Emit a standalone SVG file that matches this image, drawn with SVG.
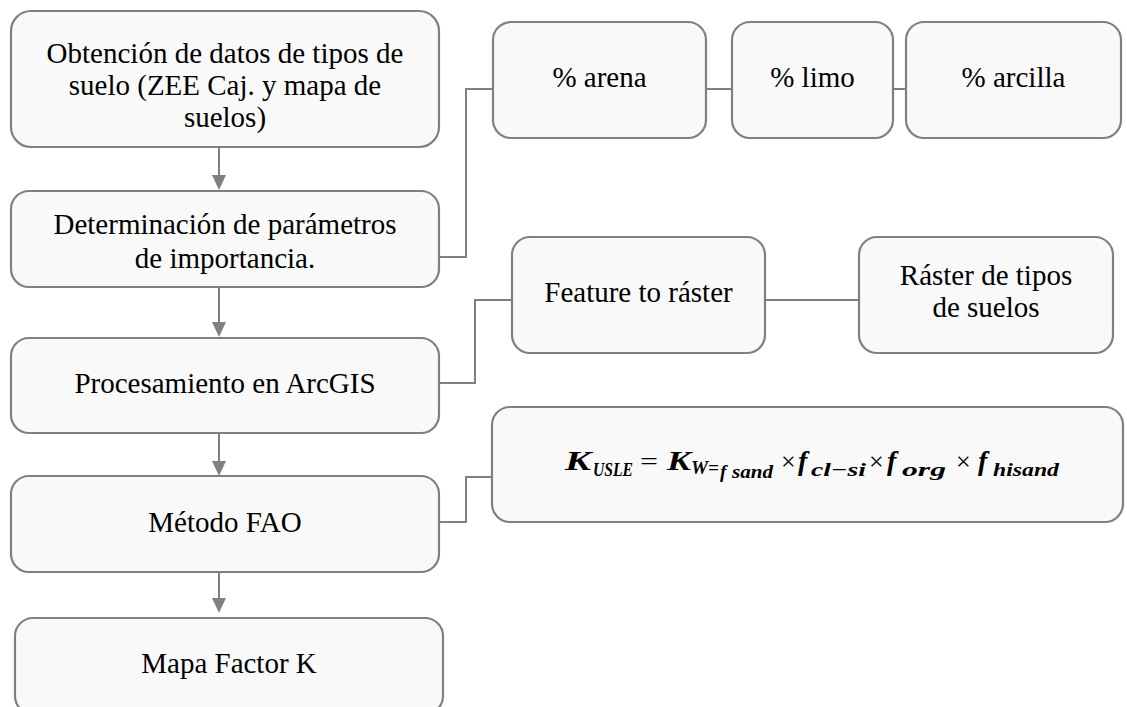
<svg xmlns="http://www.w3.org/2000/svg" width="1127" height="707" viewBox="0 0 1127 707">
<defs>
<style>
.box{fill:#f9f9f9;stroke:#808080;stroke-width:2.2}
.t{font-size:29px;fill:#000;text-anchor:middle}
.c{fill:none;stroke:#808080;stroke-width:2}
.fm{font-size:28px;font-weight:bold;font-style:italic;fill:#000}
.fs{font-size:19px;font-weight:bold;font-style:italic;fill:#000}
.fx{font-size:26px;fill:#000}
</style>
</defs>
<rect width="1127" height="707" fill="#ffffff"/>
<g id="connectors">
<line class="c" x1="219" y1="147" x2="219" y2="177"/>
<path d="M212,175 L226,175 L219,190 Z" fill="#808080"/>
<line class="c" x1="219" y1="287" x2="219" y2="324"/>
<path d="M212,322 L226,322 L219,337 Z" fill="#808080"/>
<line class="c" x1="219" y1="433" x2="219" y2="463"/>
<path d="M212,461 L226,461 L219,476 Z" fill="#808080"/>
<line class="c" x1="219" y1="572" x2="219" y2="600"/>
<path d="M212,598 L226,598 L219,613 Z" fill="#808080"/>
<polyline class="c" points="439,257 466,257 466,89 493,89"/>
<line class="c" x1="706" y1="89" x2="732" y2="89"/>
<line class="c" x1="893" y1="89" x2="906" y2="89"/>
<polyline class="c" points="439,383 475,383 475,300 512,300"/>
<line class="c" x1="765" y1="300" x2="859" y2="300"/>
<polyline class="c" points="439,522 466,522 466,477 492,477"/>
</g>
<g font-family="Liberation Serif, Times New Roman, DejaVu Serif, serif">
<g id="n1">
<rect class="box" x="11" y="11" width="428" height="136" rx="20"/>
<text class="t" x="225" y="63">Obtención de datos de tipos de</text>
<text class="t" x="225" y="95">suelo (ZEE Caj. y mapa de</text>
<text class="t" x="225" y="127">suelos)</text>
</g>
<g id="n2">
<rect class="box" x="11" y="191" width="428" height="96" rx="18"/>
<text class="t" x="225" y="234">Determinación de parámetros</text>
<text class="t" x="225" y="268">de importancia.</text>
</g>
<g id="n3">
<rect class="box" x="11" y="338" width="428" height="95" rx="18"/>
<text class="t" x="225" y="393">Procesamiento en ArcGIS</text>
</g>
<g id="n4">
<rect class="box" x="11" y="476" width="428" height="96" rx="18"/>
<text class="t" x="225" y="532">Método FAO</text>
</g>
<g id="n5">
<rect class="box" x="15" y="618" width="428" height="96" rx="18"/>
<text class="t" x="229" y="673">Mapa Factor K</text>
</g>
<g id="n6">
<rect class="box" x="493" y="22" width="213" height="116" rx="18"/>
<text class="t" x="599.5" y="87">% arena</text>
</g>
<g id="n7">
<rect class="box" x="732" y="22" width="161" height="116" rx="18"/>
<text class="t" x="812.5" y="87">% limo</text>
</g>
<g id="n8">
<rect class="box" x="906" y="22" width="215" height="116" rx="18"/>
<text class="t" x="1013.5" y="87">% arcilla</text>
</g>
<g id="n9">
<rect class="box" x="512" y="237" width="253" height="116" rx="18"/>
<text class="t" x="638.5" y="302">Feature to ráster</text>
</g>
<g id="n10">
<rect class="box" x="859" y="237" width="254" height="116" rx="18"/>
<text class="t" x="986" y="285">Ráster de tipos</text>
<text class="t" x="986" y="317">de suelos</text>
</g>
<g id="n11">
<rect class="box" x="492" y="407" width="631" height="115" rx="18"/>
<text class="fm" x="565" y="470" textLength="26" lengthAdjust="spacingAndGlyphs">K</text>
<text class="fs" x="593" y="476" textLength="40" lengthAdjust="spacingAndGlyphs">USLE</text>
<text class="fx" x="640" y="470" textLength="18" lengthAdjust="spacingAndGlyphs">=</text>
<text class="fm" x="667" y="470" textLength="24" lengthAdjust="spacingAndGlyphs">K</text>
<text class="fs" x="691" y="474" textLength="28" lengthAdjust="spacingAndGlyphs">W=</text>
<text class="fs" x="720" y="478">f</text>
<text class="fs" x="732" y="478" textLength="41" lengthAdjust="spacingAndGlyphs">sand</text>
<text class="fx" x="781" y="470">×</text>
<text class="fm" x="798" y="470">f</text>
<text class="fs" x="811" y="476" textLength="55" lengthAdjust="spacingAndGlyphs">cl−si</text>
<text class="fx" x="869" y="470">×</text>
<text class="fm" x="887" y="470">f</text>
<text class="fs" x="902" y="476" textLength="44" lengthAdjust="spacingAndGlyphs">org</text>
<text class="fx" x="956" y="470">×</text>
<text class="fm" x="978" y="470">f</text>
<text class="fs" x="993" y="476" textLength="66" lengthAdjust="spacingAndGlyphs">hisand</text>
</g>
</g>
</svg>
